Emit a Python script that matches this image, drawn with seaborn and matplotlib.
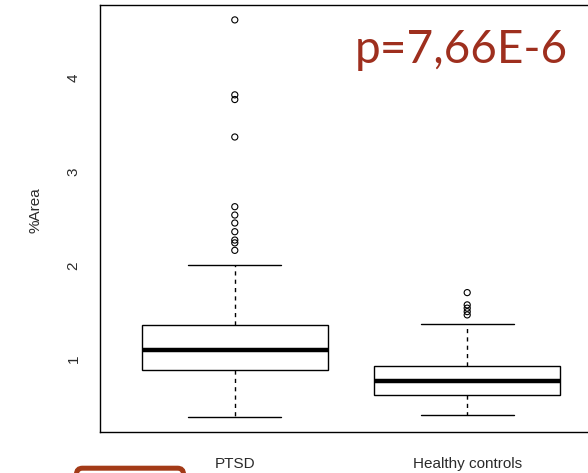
import numpy as np
import pandas as pd
import matplotlib
matplotlib.use("Agg")
import matplotlib.pyplot as plt
from matplotlib.patches import FancyBboxPatch
from matplotlib.transforms import IdentityTransform
import seaborn as sns

# Groups on the x axis
groups = ["PTSD", "Healthy controls"]

# Five-number summaries (lower whisker, Q1, median, Q3, upper whisker) of %Area
ptsd_summary = [0.38, 0.883, 1.092, 1.359, 2.0]
hc_summary = [0.398, 0.619, 0.761, 0.921, 1.374]

# Values beyond the whiskers
ptsd_outliers = [4.62, 3.82, 3.77, 3.37, 2.626, 2.537, 2.452, 2.359, 2.27, 2.24, 2.16]
hc_outliers = [1.709, 1.578, 1.543, 1.506, 1.471]

y_ticks = [1, 2, 3, 4]
p_label = "p=7,66E-6"

box_df = pd.DataFrame({
    "group": [groups[0]] * len(ptsd_summary) + [groups[1]] * len(hc_summary),
    "area": ptsd_summary + hc_summary,
})
out_df = pd.DataFrame({
    "group": [groups[0]] * len(ptsd_outliers) + [groups[1]] * len(hc_outliers),
    "area": ptsd_outliers + hc_outliers,
})

sns.set_theme(style="white")
plt.rcParams["font.family"] = ["Liberation Sans", "DejaVu Sans"]

fig = plt.figure(figsize=(5.88, 4.73), dpi=100)
ax = fig.add_axes([100 / 588, 1 - 432 / 473, 502 / 588, 427 / 473])

sns.boxplot(
    data=box_df, x="group", y="area", order=groups, ax=ax,
    width=0.8, whis=(0, 100), showfliers=False,
    color="white", linecolor="black", linewidth=1.0,
    medianprops=dict(linewidth=3.2, color="black"),
    whiskerprops=dict(linestyle=(0, (3, 3)), color="black"),
    capprops=dict(color="black"),
)

n_before = len(ax.collections)
sns.stripplot(
    data=out_df, x="group", y="area", order=groups, ax=ax,
    jitter=False, size=4.4, linewidth=0.8, marker="o", color="black",
)
for coll in ax.collections[n_before:]:
    coll.set_facecolor("none")
    coll.set_edgecolor("black")

ax.set_xlim(-0.58, 1.58)
ax.set_ylim(0.221, 4.779)
ax.set_yticks(y_ticks)
ax.set_yticklabels([str(t) for t in y_ticks])
ax.set_xlabel("")
ax.set_ylabel("%Area", fontsize=11, color="#2a2a2a")
ax.yaxis.set_label_coords(-0.114, 0.52)

for s in ax.spines.values():
    s.set_visible(True)
    s.set_color("black")
    s.set_linewidth(1.0)

ax.tick_params(axis="both", which="both", direction="out", length=7,
               width=1.0, color="black", labelsize=11, labelcolor="#2a2a2a")
ax.tick_params(axis="y", labelrotation=90, pad=7)
ax.tick_params(axis="x", pad=11)
for lab in ax.get_yticklabels():
    lab.set_verticalalignment("center")

fig.text(355 / 588, 1 - 63 / 473, p_label, fontsize=33, color="#9E2F1E",
         family=["Lato", "DejaVu Sans"], ha="left", va="baseline")

badge = FancyBboxPatch((76.5, -20), 107, 24.8,
                       boxstyle="round,pad=0,rounding_size=6",
                       transform=IdentityTransform(),
                       facecolor="white", edgecolor="#A33A17", linewidth=3.6,
                       clip_on=False)
fig.patches.append(badge)

fig.savefig("out.png", dpi=100)
